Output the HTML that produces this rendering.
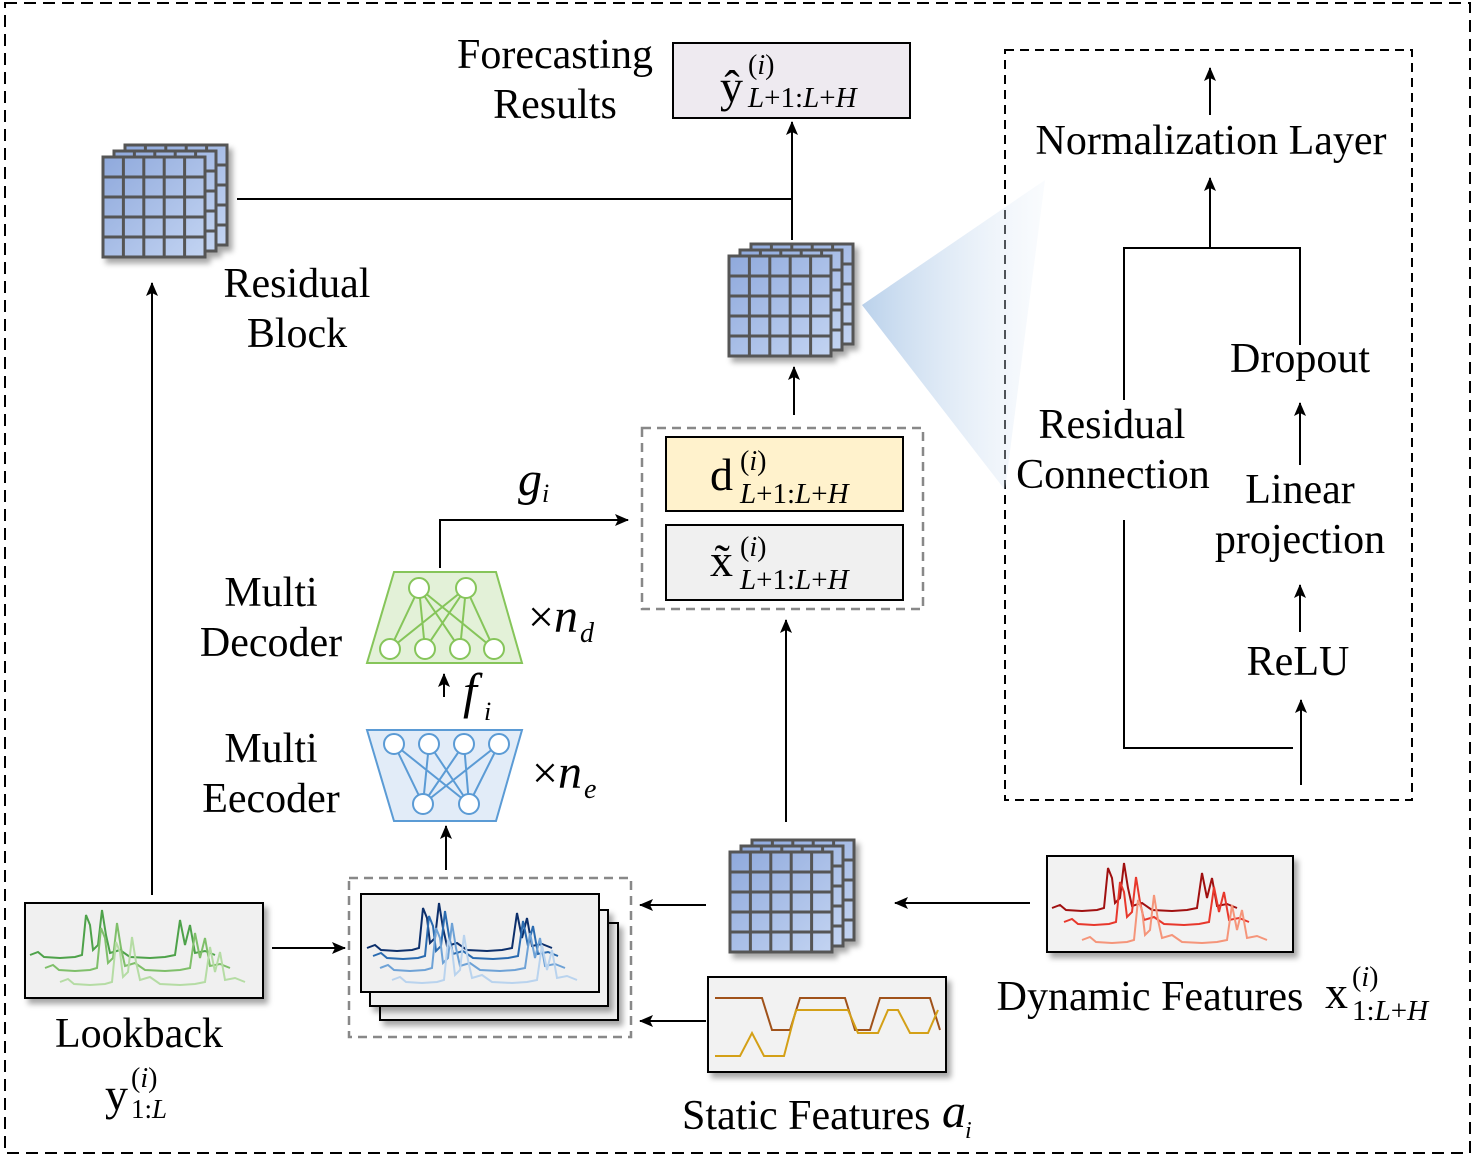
<!DOCTYPE html>
<html><head><meta charset="utf-8"><style>
html,body{margin:0;padding:0;background:#fff}
svg{display:block}
text{font-family:"Liberation Serif",serif;fill:#000}
</style></head><body>
<svg width="1475" height="1160" viewBox="0 0 1475 1160" xmlns="http://www.w3.org/2000/svg">
<defs>
<marker id="ar" markerWidth="14" markerHeight="12" refX="13" refY="6" orient="auto" markerUnits="userSpaceOnUse" viewBox="0 0 14 12">
<path d="M0,0 L14,6 L0,12 L3,6 z" fill="#000"/></marker>
<linearGradient id="cg" x1="0" y1="0" x2="1" y2="1">
<stop offset="0" stop-color="#8fa9dc"/><stop offset="1" stop-color="#c3d4f2"/></linearGradient>
<linearGradient id="tri" x1="0" y1="0" x2="1" y2="0">
<stop offset="0" stop-color="#a9c6e6"/><stop offset="1" stop-color="#e8f0f9" stop-opacity="0.3"/></linearGradient>
<filter id="sh" x="-10%" y="-10%" width="130%" height="140%"><feDropShadow dx="4" dy="5" stdDeviation="3" flood-color="#000" flood-opacity="0.35"/></filter>
<g id="gridone">
<rect x="0" y="0" width="102" height="100" fill="url(#cg)" stroke="#555" stroke-width="3"/>
<path d="M20.4,0V100M40.8,0V100M61.2,0V100M81.6,0V100M0,20H102M0,40H102M0,60H102M0,80H102" stroke="#555" stroke-width="3"/>
</g>
<g id="grid" filter="url(#sh)">
<use href="#gridone" x="22" y="-12"/>
<use href="#gridone" x="11" y="-6"/>
<use href="#gridone"/>
</g>
<path id="sp" d="M0,50 L8,47 14,52 30,53 45,52 52,50 56,10 60,20 63,45 68,40 72,5 76,30 80,48 90,45 100,52 120,53 135,52 145,50 150,15 155,40 160,20 165,48 175,46 185,50" fill="none" stroke-width="2"/>
</defs>

<rect x="5" y="3" width="1465" height="1150" fill="none" stroke="#000" stroke-width="2" stroke-dasharray="12,7"/>
<rect x="1005" y="50" width="407" height="750" fill="none" stroke="#000" stroke-width="2" stroke-dasharray="9,6"/>
<polygon points="862,305 1045,180 1005,490" fill="url(#tri)" opacity="0.8"/>

<use href="#grid" x="103" y="157"/>
<use href="#grid" x="729" y="256"/>
<use href="#grid" x="730" y="852"/>

<rect x="673" y="43" width="237" height="75" fill="#eeeaf0" stroke="#000" stroke-width="2"/>
<rect x="642" y="428" width="281" height="181" fill="none" stroke="#888" stroke-width="2.5" stroke-dasharray="9,6"/>
<rect x="666" y="437" width="237" height="74" fill="#fff2cc" stroke="#000" stroke-width="2"/>
<rect x="666" y="525" width="237" height="75" fill="#f0f0f0" stroke="#000" stroke-width="2"/>

<g stroke="#86c55a" stroke-width="2" fill="none">
<polygon points="394,572 496,572 522,663 367,663" fill="#e3f1d8"/>
<path d="M419,588 L390,649 M419,588 L425,649 M419,588 L460,649 M419,588 L494,649 M466,588 L390,649 M466,588 L425,649 M466,588 L460,649 M466,588 L494,649"/>
<g fill="#fff"><circle cx="419" cy="588" r="10"/><circle cx="466" cy="588" r="10"/>
<circle cx="390" cy="649" r="10"/><circle cx="425" cy="649" r="10"/><circle cx="460" cy="649" r="10"/><circle cx="494" cy="649" r="10"/></g>
</g>
<g stroke="#5b9bd5" stroke-width="2" fill="none">
<polygon points="367,730 522,730 496,821 394,821" fill="#e2ecf8"/>
<path d="M394,744 L423,804 M394,744 L469,804 M429,744 L423,804 M429,744 L469,804 M464,744 L423,804 M464,744 L469,804 M499,744 L423,804 M499,744 L469,804"/>
<g fill="#fff"><circle cx="394" cy="744" r="10"/><circle cx="429" cy="744" r="10"/><circle cx="464" cy="744" r="10"/><circle cx="499" cy="744" r="10"/>
<circle cx="423" cy="804" r="10"/><circle cx="469" cy="804" r="10"/></g>
</g>

<rect x="25" y="903" width="238" height="95" fill="#f0f0f0" stroke="#000" stroke-width="2" filter="url(#sh)"/>
<use href="#sp" x="30" y="905" stroke="#4ea24a"/>
<use href="#sp" x="45" y="918" stroke="#7fbf6a"/>
<use href="#sp" x="60" y="932" stroke="#b5dca4"/>

<rect x="349" y="878" width="282" height="159" fill="none" stroke="#888" stroke-width="2.5" stroke-dasharray="9,6"/>
<rect x="380" y="923" width="238" height="97" fill="#f0f0f0" stroke="#000" stroke-width="2" filter="url(#sh)"/>
<rect x="370" y="910" width="238" height="96" fill="#f0f0f0" stroke="#000" stroke-width="2" filter="url(#sh)"/>
<rect x="361" y="894" width="238" height="98" fill="#f0f0f0" stroke="#000" stroke-width="2"/>
<use href="#sp" x="367" y="898" stroke="#0c2f6b"/>
<use href="#sp" x="373" y="906" stroke="#2a6bb0"/>
<use href="#sp" x="380" y="918" stroke="#6ea2d6"/>
<use href="#sp" x="392" y="930" stroke="#b9d3ee"/>

<rect x="1047" y="856" width="246" height="96" fill="#f2f2f2" stroke="#000" stroke-width="2" filter="url(#sh)"/>
<use href="#sp" x="1052" y="858" stroke="#a01010"/>
<use href="#sp" x="1064" y="872" stroke="#e8382c"/>
<use href="#sp" x="1082" y="890" stroke="#f5957a"/>

<rect x="708" y="977" width="238" height="95" fill="#f2f2f2" stroke="#000" stroke-width="2" filter="url(#sh)"/>
<polyline points="715,998 762,998 772,1030 790,1030 800,998 845,998 855,1030 870,1030 880,998 930,998 940,1030" fill="none" stroke="#a0521a" stroke-width="2"/>
<polyline points="715,1056 740,1056 752,1033 764,1056 784,1056 796,1010 848,1010 858,1033 878,1033 888,1010 898,1010 910,1033 928,1033 938,1010" fill="none" stroke="#d4a017" stroke-width="2"/>

<g stroke="#000" stroke-width="2" fill="none">
<path d="M237,199 H792"/>
<path d="M792,240 V122" marker-end="url(#ar)"/>
<path d="M794,415 V367" marker-end="url(#ar)"/>
<path d="M440,568 V520 H628" marker-end="url(#ar)"/>
<path d="M444,697 V674" marker-end="url(#ar)"/>
<path d="M446,870 V826" marker-end="url(#ar)"/>
<path d="M152,895 V283" marker-end="url(#ar)"/>
<path d="M272,948 H345" marker-end="url(#ar)"/>
<path d="M706,905 H640" marker-end="url(#ar)"/>
<path d="M706,1021 H640" marker-end="url(#ar)"/>
<path d="M1030,903 H895" marker-end="url(#ar)"/>
<path d="M786,822 V620" marker-end="url(#ar)"/>
<path d="M1210,115 V68" marker-end="url(#ar)"/>
<path d="M1210,248 V178" marker-end="url(#ar)"/>
<path d="M1124,400 V248 H1300 V345"/>
<path d="M1124,520 V748 H1293"/>
<path d="M1300,465 V403" marker-end="url(#ar)"/>
<path d="M1300,632 V585" marker-end="url(#ar)"/>
<path d="M1301,785 V700" marker-end="url(#ar)"/>
</g>

<g font-size="42">
<text x="555" y="68" text-anchor="middle">Forecasting</text>
<text x="555" y="118" text-anchor="middle">Results</text>
<text x="297" y="297" text-anchor="middle">Residual</text>
<text x="297" y="347" text-anchor="middle">Block</text>
<text x="271" y="606" text-anchor="middle">Multi</text>
<text x="271" y="656" text-anchor="middle">Decoder</text>
<text x="271" y="762" text-anchor="middle">Multi</text>
<text x="271" y="812" text-anchor="middle">Eecoder</text>
<text x="139" y="1047" text-anchor="middle">Lookback</text>
<text x="1150" y="1010" text-anchor="middle">Dynamic Features</text>
<text x="682" y="1129">Static Features</text>
<text x="1211" y="154" text-anchor="middle">Normalization Layer</text>
<text x="1300" y="372" text-anchor="middle">Dropout</text>
<text x="1112" y="438" text-anchor="middle">Residual</text>
<text x="1113" y="488" text-anchor="middle">Connection</text>
<text x="1300" y="503" text-anchor="middle">Linear</text>
<text x="1300" y="553" text-anchor="middle">projection</text>
<text x="1298" y="675" text-anchor="middle">ReLU</text>
</g>
<g font-size="46">
<text x="720" y="102">ŷ</text><text x="748" y="74" font-size="28">(<tspan font-style="italic">i</tspan>)</text><text x="748" y="107" font-size="29" font-style="italic">L<tspan font-style="normal">+1:</tspan>L<tspan font-style="normal">+</tspan>H</text>
<text x="710" y="490">d</text><text x="740" y="470" font-size="28">(<tspan font-style="italic">i</tspan>)</text><text x="740" y="503" font-size="29" font-style="italic">L<tspan font-style="normal">+1:</tspan>L<tspan font-style="normal">+</tspan>H</text>
<text x="710" y="576">x̃</text><text x="740" y="556" font-size="28">(<tspan font-style="italic">i</tspan>)</text><text x="740" y="589" font-size="29" font-style="italic">L<tspan font-style="normal">+1:</tspan>L<tspan font-style="normal">+</tspan>H</text>
<text x="1325" y="1008">x</text><text x="1352" y="986" font-size="28">(<tspan font-style="italic">i</tspan>)</text><text x="1352" y="1020" font-size="29">1:<tspan font-style="italic">L</tspan>+<tspan font-style="italic">H</tspan></text>
<text x="105" y="1110">y</text><text x="131" y="1087" font-size="28">(<tspan font-style="italic">i</tspan>)</text><text x="131" y="1118" font-size="27">1:<tspan font-style="italic">L</tspan></text>
<text x="518" y="495" font-style="italic" font-size="48">g</text><text x="542" y="502" font-style="italic" font-size="26">i</text>
<text x="463" y="708" font-style="italic" font-size="50">f</text><text x="484" y="720" font-style="italic" font-size="26">i</text>
<text x="528" y="632">×<tspan font-style="italic" font-size="48">n</tspan></text><text x="580" y="642" font-style="italic" font-size="28">d</text>
<text x="532" y="788">×<tspan font-style="italic" font-size="48">n</tspan></text><text x="584" y="798" font-style="italic" font-size="28">e</text>
<text x="942" y="1127" font-style="italic" font-size="48">a</text><text x="965" y="1138" font-style="italic" font-size="24">i</text>
</g>
</svg>
</body></html>
